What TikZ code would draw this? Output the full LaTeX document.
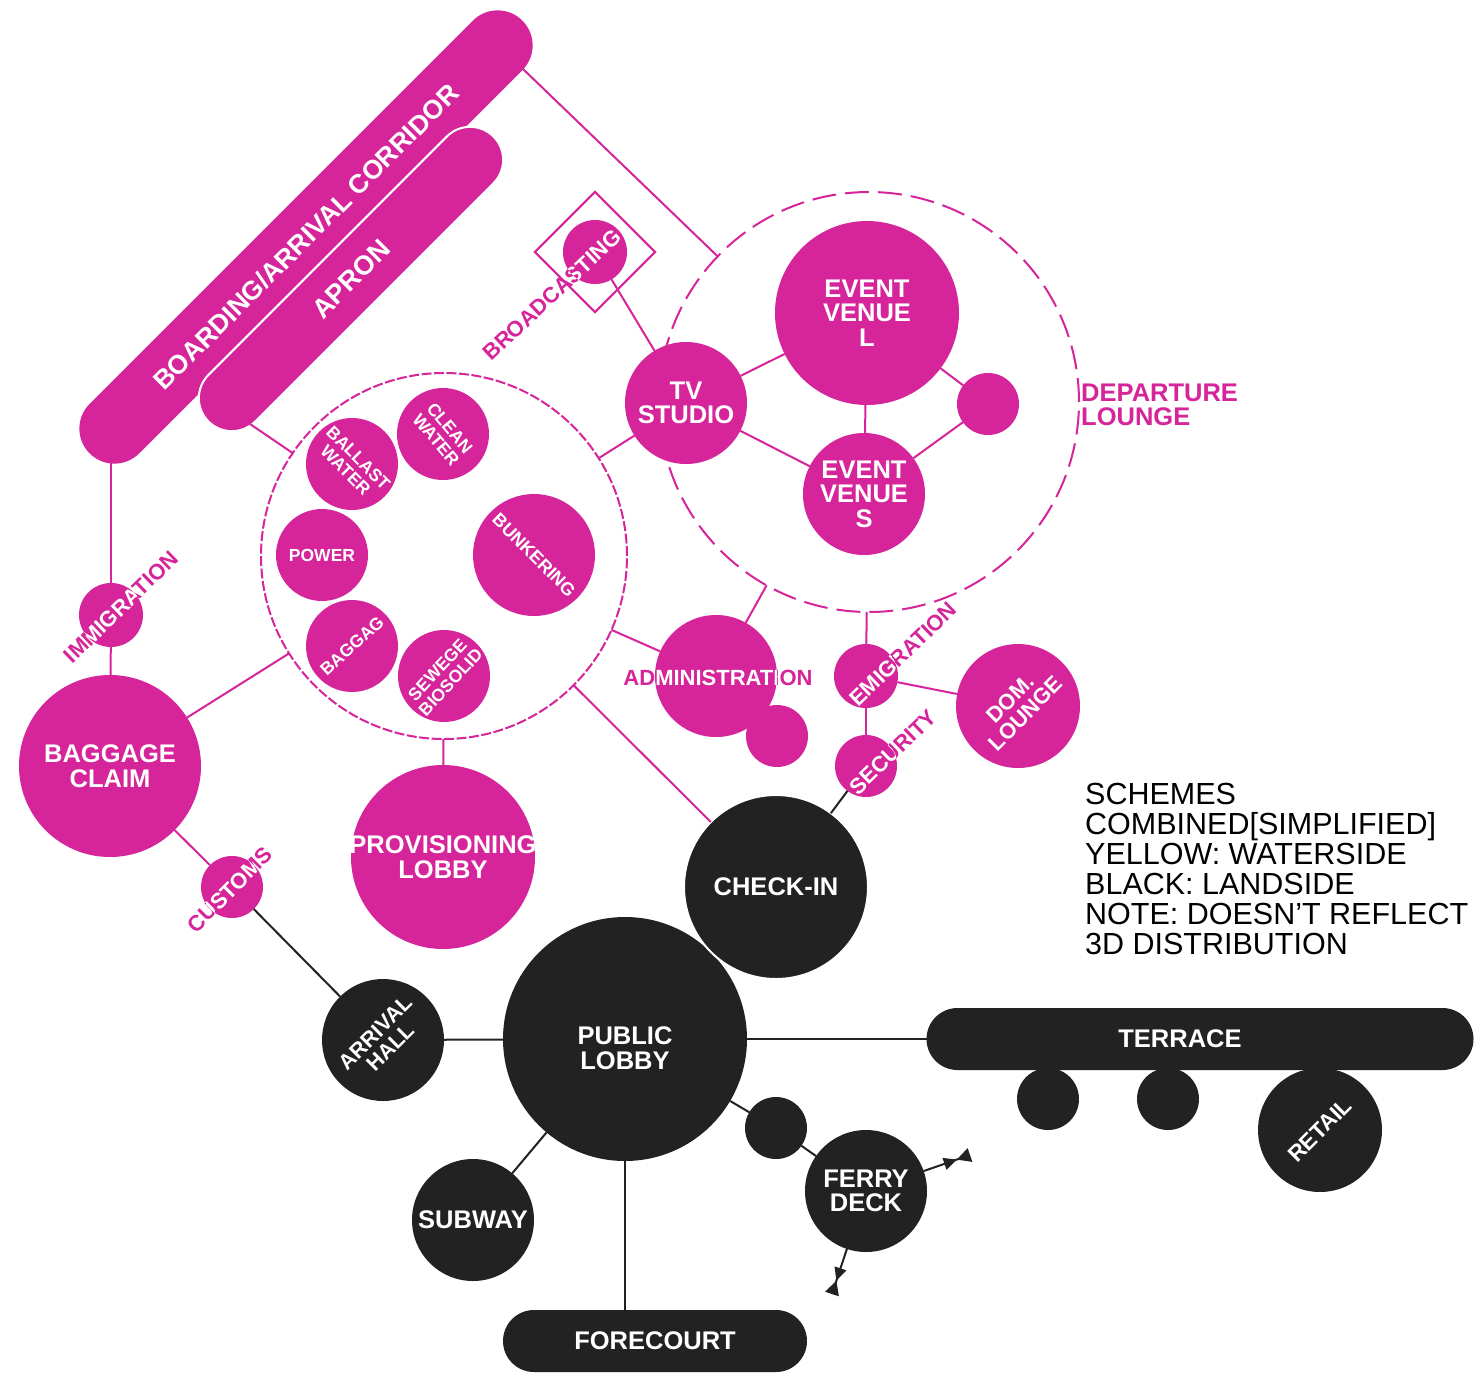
\documentclass[tikz,border=0pt]{standalone}
\usepackage{fontspec}
\setmainfont{Liberation Sans}
\usetikzlibrary{shapes.misc, arrows.meta}

\definecolor{mag}{HTML}{D6249A}
\definecolor{ink}{HTML}{222222}

\newcommand\bigtype{\bfseries\fontsize{25.5}{24.5}\selectfont}
\newcommand\midtype{\bfseries\fontsize{22}{21}\selectfont}
\newcommand\smalltype{\bfseries\fontsize{17.5}{18}\selectfont}
% a line that may run past the edge of its circle
\newcommand\overhang[1]{\makebox[0pt]{#1}}

% label that is magenta outside a circle and white inside it
\newcommand\cutlabel[6]{%
  \node[tagout, rotate=#4] (#1) at (#5) {#6};
  \begin{scope}
    \clip (#2.center) circle[radius=#3];
    \node[tagin, rotate=#4] (#1-in) at (#5) {#6};
  \end{scope}}

\tikzset{
  pink/.style={circle, fill=mag, text=white, inner sep=0pt, outer sep=0pt, align=center, font=\bigtype},
  dark/.style={circle, fill=ink, text=white, inner sep=0pt, outer sep=0pt, align=center, font=\bigtype},
  band/.style={rounded rectangle, inner sep=0pt, outer sep=0pt, text=white, font=\bigtype},
  zone/.style={circle, draw=mag, line width=2pt, inner sep=0pt, outer sep=0pt},
  link/.style={draw=mag, line width=2pt},
  dlink/.style={draw=ink, line width=2pt},
  tagout/.style={text=mag, inner sep=0pt, font=\midtype},
  tagin/.style={text=white, inner sep=0pt, font=\midtype},
  ferryend/.style={-{Triangle[length=13pt,width=12pt] Triangle[reversed,length=14pt,width=14pt]}},
}

\begin{document}
\begin{tikzpicture}[x=1pt, y=-1pt]
    \fill[white] (0,0) rectangle (1484,1374);
    \useasboundingbox (0,0) rectangle (1484,1374);

    % waterside zones
    \node[zone, dash pattern=on 24pt off 9pt, minimum size=420pt] (lounge) at (869,402) {};
    \node[zone, dash pattern=on 10pt off 2.5pt, minimum size=366pt] (plant) at (444,556) {};

    \node[band, fill=mag, minimum width=612pt, minimum height=70pt, rotate=45,
          font=\bfseries\fontsize{26.5}{26}\selectfont] (corridor) at (306,237) {BOARDING/ARRIVAL CORRIDOR};
    \node[band, fill=mag, draw=white, line width=2pt, minimum width=403pt, minimum height=66pt, rotate=45,
          font=\bfseries\fontsize{27}{26}\selectfont] (apron) at (351,279) {APRON};
    \coordinate (corr-top) at (497,44);
    \coordinate (corr-foot) at (111,440);
    \coordinate (apron-foot) at (250,424);

    % plant rooms
    \node[pink, minimum size=92pt, font=\smalltype, rotate=-45] (ballast) at (352,464) {BALLAST\\WATER};
    \node[pink, minimum size=92pt, font=\smalltype, rotate=-50] (clean) at (443,434) {CLEAN\\WATER};
    \node[pink, minimum size=92pt, font=\smalltype] (power) at (322,555) {POWER};
    \node[pink, minimum size=92pt, font=\smalltype, rotate=42] (bags) at (352,646) {BAGGAG};
    \node[pink, minimum size=92pt, font=\smalltype, rotate=47] (sewage) at (444,676) {SEWEGE\\\overhang{BIOSOLID}};
    \node[pink, minimum size=122pt, font=\bfseries\fontsize{18}{18}\selectfont, rotate=-45] (bunker) at (534,555) {BUNKERING};

    % waterside rooms
    \node[pink, minimum size=182pt] (claim) at (110,766) {BAGGAGE\\CLAIM};
    \node[pink, minimum size=64pt] (imm) at (111,615) {};
    \node[pink, minimum size=62pt] (customs) at (232,887) {};
    \node[pink, minimum size=184pt] (prov) at (443,857) {\overhang{PROVISIONING}\\LOBBY};
    \node[pink, minimum size=122pt] (tv) at (686,403) {TV\\STUDIO};
    \node[pink, minimum size=184pt] (evl) at (867,313) {EVENT\\VENUE\\L};
    \node[pink, minimum size=122pt] (evs) at (864,494) {EVENT\\VENUE\\S};
    \node[pink, minimum size=62pt] (spot) at (988,404) {};
    \node[pink, minimum size=64pt] (bcast) at (595,252) {};
    \node[draw=mag, line width=2pt, rotate=45, minimum size=85pt, inner sep=0pt] (bcast-box) at (bcast) {};
    \node[pink, minimum size=122pt] (admin) at (716,676) {};
    \node[pink, minimum size=62pt] (annex) at (777,736) {};
    \node[pink, minimum size=64pt] (emig) at (866,676) {};
    \node[pink, minimum size=62pt] (security) at (866,766) {};
    \node[pink, minimum size=124pt, font=\midtype, rotate=45] (dom) at (1018,706) {DOM.\\LOUNGE};

    % landside rooms
    \node[dark, minimum size=244pt] (lobby) at (625,1039)
      {\raisebox{-9pt}[\height][\depth]{PUBLIC}\\\raisebox{-9pt}[\height][\depth]{LOBBY}};
    \node[dark, draw=white, line width=2pt, minimum size=184pt] (checkin) at (776,887) {CHECK-IN};
    \node[dark, minimum size=122pt, font=\bfseries\fontsize{21.5}{21}\selectfont, rotate=45] (arrival) at (383,1040) {ARRIVAL\\HALL};
    \node[dark, minimum size=122pt] (subway) at (473,1220) {SUBWAY};
    \node[band, fill=ink, minimum width=304pt, minimum height=62pt] (forecourt) at (655,1341) {FORECOURT};
    \node[dark, minimum size=62pt] (kiosk-a) at (1048,1099) {};
    \node[dark, minimum size=62pt] (kiosk-b) at (1168,1099) {};
    \node[dark, minimum size=124pt, font=\bfseries\fontsize{22.5}{22}\selectfont, rotate=45] (retail) at (1320,1130) {RETAIL};
    \node[band, fill=ink, minimum width=547pt, minimum height=62pt] (terrace) at (1200,1039) {TERRACE\hspace*{40pt}};
    \node[dark, minimum size=62pt] (pier) at (776,1128) {};
    \node[dark, minimum size=122pt] (ferry) at (866,1191) {FERRY\\DECK};
    \coordinate (ferry-e) at (970,1155);
    \coordinate (ferry-s) at (832,1294);

    \draw[link] (corr-foot) -- (imm);
    \draw[link] (imm) -- (claim);
    \draw[link] (claim) -- (customs);
    \draw[link] (claim) -- (plant);
    \draw[link] (apron-foot) -- (plant);
    \draw[link] (plant) -- (prov);
    \draw[link] (plant) -- (tv);
    \draw[link] (plant) -- (admin);
    \draw[link] (plant) -- (checkin);
    \draw[link] (corr-top) -- (lounge);
    \draw[link] (bcast) -- (tv);
    \draw[link] (tv) -- (evl);
    \draw[link] (tv) -- (evs);
    \draw[link] (evl) -- (evs);
    \draw[link] (evl) -- (spot);
    \draw[link] (evs) -- (spot);
    \draw[link] (admin) -- (lounge);
    \draw[link] (emig) -- (lounge);
    \draw[link] (emig) -- (security);
    \draw[link] (emig) -- (dom);

    \draw[dlink] (security) -- (checkin);
    \draw[dlink] (customs) -- (arrival);
    \draw[dlink] (arrival) -- (lobby);
    \draw[dlink] (lobby) -- (terrace);
    \draw[dlink] (lobby) -- (subway);
    \draw[dlink] (lobby) -- (lobby |- forecourt.north);
    \draw[dlink] (lobby) -- (pier);
    \draw[dlink] (pier) -- (ferry);
    \draw[dlink, ferryend] (ferry) -- (ferry-e);
    \draw[dlink, ferryend] (ferry) -- (ferry-s);

    % labels running across their circles
    \cutlabel{imm-tag}{imm}{32pt}{44}{121,607}{IMMIGRATION}
    \cutlabel{customs-tag}{customs}{31pt}{45}{230,890}{CUSTOMS}
    \cutlabel{emig-tag}{emig}{32pt}{44}{903,654}{EMIGRATION}
    \cutlabel{security-tag}{security}{31pt}{44}{893,752}{SECURITY}
    \cutlabel{bcast-tag}{bcast}{32pt}{43}{552,295}{BROADCASTING}
    \cutlabel{admin-tag}{admin}{61pt}{0}{718,678}{ADMINISTRATION}

    \node[text=mag, font=\bigtype, align=left, anchor=west, inner sep=0pt] (lounge-tag) at (1081,405) {DEPARTURE\\LOUNGE};

    \node[anchor=north west, align=left, inner sep=0pt, text=black,
          font=\fontsize{30.5}{30}\selectfont] (legend) at (1085,783)
      {SCHEMES\\COMBINED[SIMPLIFIED]\\YELLOW: WATERSIDE\\BLACK: LANDSIDE\\NOTE: DOESN’T REFLECT\\3D DISTRIBUTION};
\end{tikzpicture}
\end{document}
